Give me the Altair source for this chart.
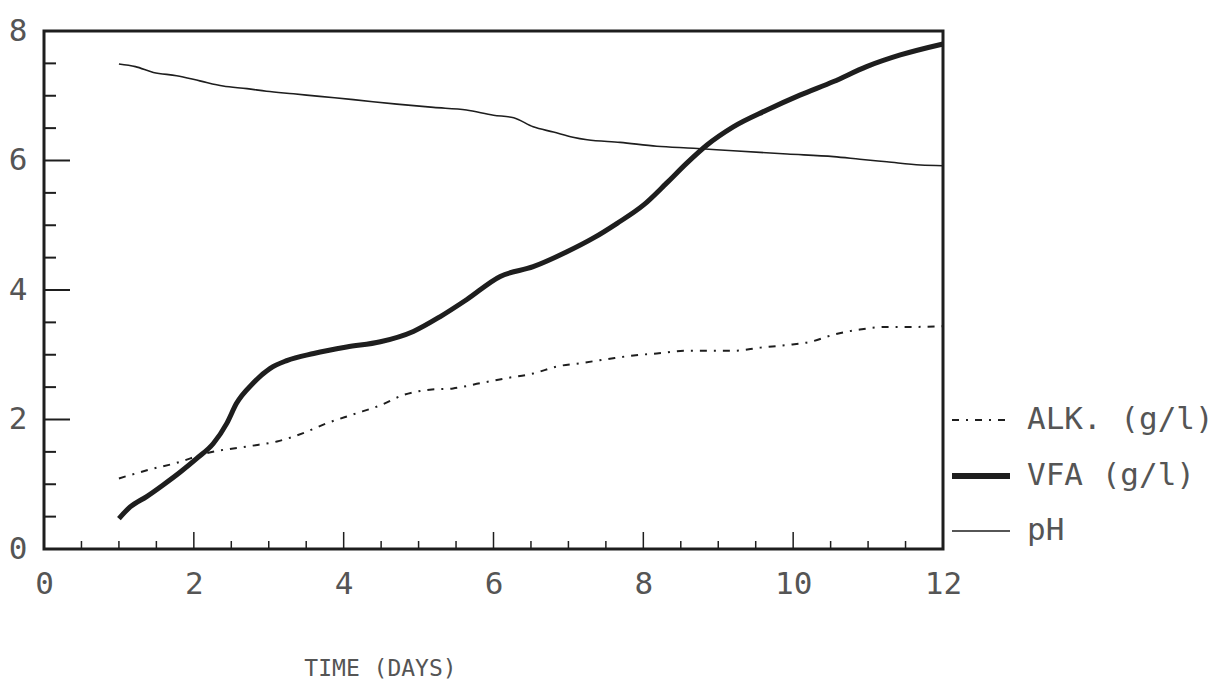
import altair as alt
import pandas as pd

# ---- data ----
ph_x = [1.0, 1.22, 1.46, 1.77, 2.08, 2.39, 2.71, 2.97, 3.33, 3.68, 4.13, 4.71, 5.20, 5.64, 6.0,
        6.27, 6.53, 6.80, 7.06, 7.25, 7.69, 8.18, 8.67, 9.20, 9.92, 10.54, 10.89, 11.25, 11.70, 12.0]
ph_y = [7.49, 7.45, 7.36, 7.31, 7.23, 7.15, 7.11, 7.07, 7.03, 6.99, 6.94, 6.87, 6.82, 6.78, 6.70,
        6.66, 6.52, 6.44, 6.36, 6.32, 6.28, 6.22, 6.19, 6.15, 6.10, 6.06, 6.02, 5.98, 5.93, 5.92]

vfa_x = [1.0, 1.15, 1.37, 1.59, 1.82, 2.04, 2.26, 2.44, 2.57, 2.79, 3.02, 3.24, 3.60, 4.04, 4.49,
         4.93, 5.29, 5.64, 6.09, 6.53, 6.98, 7.33, 7.65, 8.00, 8.31, 8.58, 8.85, 9.20, 9.65, 10.09,
         10.54, 10.98, 11.43, 12.0]
vfa_y = [0.47, 0.65, 0.81, 0.99, 1.19, 1.40, 1.63, 1.94, 2.25, 2.56, 2.79, 2.91, 3.02, 3.12, 3.20,
         3.36, 3.59, 3.85, 4.21, 4.36, 4.59, 4.80, 5.03, 5.31, 5.65, 5.96, 6.24, 6.52, 6.78, 7.01,
         7.22, 7.45, 7.63, 7.80]

alk_x = [1.0, 1.42, 1.77, 2.17, 2.75, 3.11, 3.46, 3.77, 4.13, 4.49, 4.80, 5.15, 5.46, 5.82, 6.18,
         6.53, 6.85, 7.16, 7.51, 7.87, 8.18, 8.54, 8.85, 9.20, 9.56, 9.92, 10.23, 10.54, 10.89,
         11.25, 11.61, 12.0]
alk_y = [1.09, 1.23, 1.33, 1.48, 1.59, 1.66, 1.79, 1.94, 2.08, 2.22, 2.38, 2.46, 2.48, 2.56, 2.64,
         2.71, 2.82, 2.87, 2.93, 2.99, 3.02, 3.06, 3.06, 3.06, 3.11, 3.15, 3.20, 3.31, 3.39,
         3.43, 3.43, 3.44]

series_names = ["ALK. (g/l)", "VFA (g/l)", "pH"]
x_labels = [0, 2, 4, 6, 8, 10, 12]
y_labels = [0, 2, 4, 6, 8]
x_minor = [0.5, 1, 1.5, 2.5, 3, 3.5, 4.5, 5, 5.5, 6.5, 7, 7.5, 8.5, 9, 9.5, 10.5, 11, 11.5]
x_major = [2, 4, 6, 8, 10]
y_minor = [0.5, 1, 1.5, 2.5, 3, 3.5, 4.5, 5, 5.5, 6.5, 7, 7.5]
y_major = [2, 4, 6]

# ---- layout ----
W, H = 899, 518
INK = "#1e1e1e"
TXT = "#555555"
FONT = "DejaVu Sans Mono"

xs = alt.Scale(domain=[0, 12], nice=False, zero=False)
ys = alt.Scale(domain=[0, 8], nice=False, zero=False)

alk = pd.DataFrame({"t": alk_x, "v": alk_y})
vfa = pd.DataFrame({"t": vfa_x, "v": vfa_y})
ph = pd.DataFrame({"t": ph_x, "v": ph_y})

xaxis = alt.Axis(values=x_labels, format="d", ticks=False, domain=False, grid=False,
                 labelFont=FONT, labelFontSize=31, labelColor=TXT, labelPadding=20,
                 title="TIME (DAYS)", titleFont=FONT, titleFontSize=23, titleFontWeight="normal",
                 titleColor=TXT, titleX=336, titleY=119, titleAlign="center", titleBaseline="middle",
                 labelFlush=False)
yaxis = alt.Axis(values=y_labels, format="d", ticks=False, domain=False, grid=False,
                 labelFont=FONT, labelFontSize=31, labelColor=TXT, labelPadding=17,
                 title=None, labelFlush=False)

base_x = alt.X("t:Q", scale=xs, axis=xaxis)
base_y = alt.Y("v:Q", scale=ys, axis=yaxis)

l_alk = alt.Chart(alk).mark_line(color=INK, strokeWidth=2, strokeDash=[7, 7, 2, 7],
                                 interpolate="monotone").encode(x=base_x, y=base_y)
l_vfa = alt.Chart(vfa).mark_line(color=INK, strokeWidth=5,
                                 interpolate="monotone").encode(x="t:Q", y="v:Q")
l_ph = alt.Chart(ph).mark_line(color=INK, strokeWidth=1.6,
                               interpolate="monotone").encode(x="t:Q", y="v:Q")

# inward ticks
xt_minor = alt.Chart(pd.DataFrame({"t": x_minor})).mark_rule(color=INK, strokeWidth=1.5).encode(
    x="t:Q", y=alt.value(H), y2=alt.value(H - 8))
xt_major = alt.Chart(pd.DataFrame({"t": x_major})).mark_rule(color=INK, strokeWidth=1.5).encode(
    x="t:Q", y=alt.value(H), y2=alt.value(H - 17))
yt_minor = alt.Chart(pd.DataFrame({"v": y_minor})).mark_rule(color=INK, strokeWidth=2).encode(
    y="v:Q", x=alt.value(0), x2=alt.value(12))
yt_major = alt.Chart(pd.DataFrame({"v": y_major})).mark_rule(color=INK, strokeWidth=2).encode(
    y="v:Q", x=alt.value(0), x2=alt.value(26))

# legend (drawn outside the plot, right side)
leg_rows = [389, 445, 500]
leg_styles = [dict(strokeWidth=2, strokeDash=[7, 7, 2, 7]),
              dict(strokeWidth=6),
              dict(strokeWidth=1.6)]
legend_layers = []
for name, yy, st in zip(series_names, leg_rows, leg_styles):
    d = pd.DataFrame({"label": [name]})
    legend_layers.append(
        alt.Chart(d).mark_rule(color=INK, **st).encode(
            x=alt.value(W + 9), x2=alt.value(W + 67), y=alt.value(yy)))
    legend_layers.append(
        alt.Chart(d).mark_text(font=FONT, fontSize=31, color=TXT, align="left",
                               baseline="middle").encode(
            text="label:N", x=alt.value(W + 84), y=alt.value(yy)))

chart = alt.layer(l_alk, l_vfa, l_ph, xt_minor, xt_major, yt_minor, yt_major,
                  *legend_layers).properties(
    width=W, height=H,
    autosize=alt.AutoSizeParams(type="none"),
    padding={"left": 44, "top": 31, "right": 279, "bottom": 145},
    background="white",
).configure_view(stroke=INK, strokeWidth=3)

chart.save("out.html", embed_options={"renderer": "svg", "actions": False})
